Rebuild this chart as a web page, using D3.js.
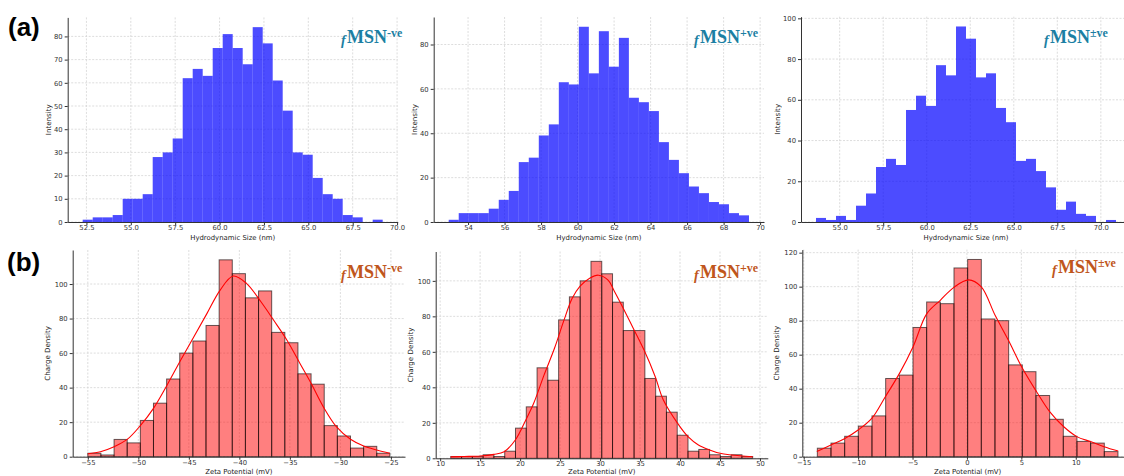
<!DOCTYPE html>
<html>
<head>
<meta charset="utf-8">
<script src="https://d3js.org/d3.v7.min.js"></script>
<style>
  body { margin: 0; background: #fff; }
  svg { display: block; font-family: "DejaVu Sans", sans-serif; }
</style>
</head>
<body>
<svg></svg>
<script>

// (a) hydrodynamic size histograms, 30 bins each
const hydroNegCounts = [1,2,2,3,10,10,12,28,30,36,62,66,63,75,81,75,68,84,77,61,48,30,29,19,12,10,3,2,0,1];
const hydroNegRange = [52.29, 69.19];
const hydroNegTicks = [52.5, 55, 57.5, 60, 62.5, 65, 67.5, 70];
const hydroNegYTicks = [0, 10, 20, 30, 40, 50, 60, 70, 80];

const hydroPosCounts = [1,4,4,4,6,10,14,27,29,39,44,63,62,88,67,86,70,83,56,54,50,36,28,22,16,13,9,8,4,3];
const hydroPosRange = [52.94, 69.39];
const hydroPosTicks = [54, 56, 58, 60, 62, 64, 66, 68, 70];
const hydroPosYTicks = [0, 20, 40, 60, 80];

const hydroMixCounts = [2,1,3,1,8,14,27,31,28,55,62,57,77,72,96,90,71,73,56,49,30,31,25,17,6,10,4,3,0,1];
const hydroMixRange = [53.64, 70.87];
const hydroMixTicks = [55, 57.5, 60, 62.5, 65, 67.5, 70];
const hydroMixYTicks = [0, 20, 40, 60, 80, 100];

// (b) zeta potential histograms + kde line
const zetaNegCounts = [2,1,10,8,21,31,45,60,67,76,114,106,92,96,72,66,48,42,18,12,5,6,2];
const zetaNegRange = [-55.0, -25.1];
const zetaNegTicks = [-55, -50, -45, -40, -35, -30, -25];
const zetaNegYTicks = [0, 20, 40, 60, 80, 100];
const zetaNegKdeX = [-55, -53.75, -52.4, -51.1, -49.8, -48.5, -47.2, -45.8, -44.5, -43.2, -41.9, -40.6, -39.3, -37.9, -36.6, -35.3, -34, -32.9, -31.7, -30.4, -29.0, -27.7, -26.4, -25.1];
const zetaNegKdeY = [1.7, 2.9, 5.8, 10, 18, 28, 41, 56, 69.5, 83, 96.5, 104.6, 100.4, 90, 79, 67.6, 54, 42.5, 29, 17.4, 10.1, 6.2, 3.9, 2.0];

const zetaPosCounts = [1,1,1,2,1,4,17,29,51,44,78,91,100,111,104,88,72,72,45,35,26,13,4,5,2,1,2,1];
const zetaPosRange = [11.33, 49.09];
const zetaPosTicks = [10, 15, 20, 25, 30, 35, 40, 45, 50];
const zetaPosYTicks = [0, 20, 40, 60, 80, 100];
const zetaPosKdeX = [11.3, 13, 15, 16.7, 18, 19.4, 20.7, 21.7, 23, 24.3, 25.5, 26.5, 27.5, 28.7, 29.8, 31, 31.8, 32.8, 34.1, 35.5, 36.9, 37.9, 39.7, 41, 42.3, 43.7, 45, 46.4, 49.1];
const zetaPosKdeY = [0.8, 1.0, 1.3, 2.2, 3.7, 10.3, 21.5, 31, 47, 62, 78, 90, 97, 101.5, 103.2, 100.4, 94, 85.4, 73.7, 61, 46, 33, 19.7, 12.2, 7.5, 4.7, 2.8, 1.9, 0.9];

const zetaMixCounts = [5,8,12,18,24,46,48,76,91,90,111,116,81,80,54,50,36,22,12,9,8,3];
const zetaMixRange = [-13.75, 13.88];
const zetaMixTicks = [-15, -10, -5, 0, 5, 10, 15];
const zetaMixYTicks = [0, 20, 40, 60, 80, 100, 120];
const zetaMixKdeX = [-13.8, -12.5, -11.3, -10.0, -8.75, -7.5, -6.2, -4.95, -3.7, -2.45, -1.2, 0.15, 1.3, 2.6, 3.8, 5.1, 6.4, 7.6, 8.9, 10.1, 11.4, 12.6, 13.9];
const zetaMixKdeY = [3.1, 6.9, 10.4, 15.7, 22.5, 35.3, 49, 64.7, 84, 92, 99.6, 104, 100, 83, 68.6, 52, 38.2, 26.5, 17.6, 11.8, 8.8, 5.9, 3.3];

const sampleTags = ["-ve", "+ve", "\u00b1ve"];

const W = 1124, H = 476;
const svg = d3.select("svg").attr("width", W).attr("height", H);

const panels = [
  {counts: hydroNegCounts, range: hydroNegRange, xTicks: hydroNegTicks, yTicks: hydroNegYTicks, fmt: ".1f", tag: sampleTags[0], row: 0,
   box: {left: 67.7, right: 397.7, top: 17.4, bottom: 222}, ylabOff: 17, labX: 347, labY: 42.5},
  {counts: hydroPosCounts, range: hydroPosRange, xTicks: hydroPosTicks, yTicks: hydroPosYTicks, fmt: "d", tag: sampleTags[1], row: 0,
   box: {left: 433.7, right: 764, top: 17, bottom: 222}, ylabOff: 16.5, labX: 700, labY: 42.5},
  {counts: hydroMixCounts, range: hydroMixRange, xTicks: hydroMixTicks, yTicks: hydroMixYTicks, fmt: ".1f", tag: sampleTags[2], row: 0,
   box: {left: 801, right: 1131, top: 16.7, bottom: 222}, ylabOff: 21.5, labX: 1050, labY: 42.5},
  {counts: zetaNegCounts, range: zetaNegRange, xTicks: zetaNegTicks, yTicks: zetaNegYTicks, fmt: "d", tag: sampleTags[0], row: 1,
   kx: zetaNegKdeX, ky: zetaNegKdeY,
   box: {left: 72.7, right: 405, top: 250, bottom: 456.7}, ylabOff: 22.5, labX: 347, labY: 278},
  {counts: zetaPosCounts, range: zetaPosRange, xTicks: zetaPosTicks, yTicks: zetaPosYTicks, fmt: "d", tag: sampleTags[1], row: 1,
   kx: zetaPosKdeX, ky: zetaPosKdeY,
   box: {left: 435.7, right: 767.8, top: 251.5, bottom: 458.3}, ylabOff: 22.5, labX: 700, labY: 278},
  {counts: zetaMixCounts, range: zetaMixRange, xTicks: zetaMixTicks, yTicks: zetaMixYTicks, fmt: "d", tag: sampleTags[2], row: 1,
   kx: zetaMixKdeX, ky: zetaMixKdeY,
   box: {left: 802.3, right: 1133, top: 249.6, bottom: 456.7}, ylabOff: 23.5, labX: 1058, labY: 273}
];

const rowStyle = [
  {fill: "blue", opacity: 0.7, stroke: "none", xlab: "Hydrodynamic Size (nm)", ylab: "Intensity", tagColor: "#1b7fa3", xlabY: 239.5},
  {fill: "red", opacity: 0.5, stroke: "#000", xlab: "Zeta Potential (mV)", ylab: "Charge Density", tagColor: "#c0561c", xlabY: 474.2}
];

panels.forEach(p => {
  const b = p.box, st = rowStyle[p.row];
  const g = svg.append("g");
  const [lo, hi] = p.range;
  const pad = (hi - lo) * 0.05;
  const x = d3.scaleLinear().domain([lo - pad, hi + pad]).range([b.left, b.right]);
  const y = d3.scaleLinear().domain([0, d3.max(p.counts) * 1.05]).range([b.bottom, b.top]);

  // grid
  g.append("g").selectAll("line").data(p.xTicks).join("line")
    .attr("x1", d => x(d)).attr("x2", d => x(d))
    .attr("y1", b.top).attr("y2", b.bottom)
    .attr("stroke", "#d4d4d4").attr("stroke-width", 0.8).attr("stroke-dasharray", "2,1.5");
  g.append("g").selectAll("line").data(p.yTicks).join("line")
    .attr("x1", b.left).attr("x2", b.right)
    .attr("y1", d => y(d)).attr("y2", d => y(d))
    .attr("stroke", "#d4d4d4").attr("stroke-width", 0.8).attr("stroke-dasharray", "2,1.5");

  // bars
  const bw = (hi - lo) / p.counts.length;
  g.append("g").selectAll("rect").data(p.counts).join("rect")
    .attr("x", (d, i) => x(lo + i * bw))
    .attr("width", x(lo + bw) - x(lo))
    .attr("y", d => y(d))
    .attr("height", d => y(0) - y(d))
    .attr("fill", st.fill).attr("fill-opacity", st.opacity)
    .attr("stroke", st.stroke).attr("stroke-opacity", 0.6).attr("stroke-width", 1);

  // kde
  if (p.kx) {
    const pts = p.kx.map((v, i) => [v, p.ky[i]]);
    g.append("path").datum(pts)
      .attr("fill", "none").attr("stroke", "red").attr("stroke-width", 1.1)
      .attr("d", d3.line().x(d => x(d[0])).y(d => y(d[1])).curve(d3.curveCatmullRom));
  }

  // axes
  const ax = g.append("g").attr("transform", `translate(0,${b.bottom})`)
    .call(d3.axisBottom(x).tickValues(p.xTicks).tickFormat(d3.format(p.fmt))
      .tickSizeInner(3).tickSizeOuter(0).tickPadding(0));
  const ay = g.append("g").attr("transform", `translate(${b.left},0)`)
    .call(d3.axisLeft(y).tickValues(p.yTicks).tickFormat(d3.format("d"))
      .tickSizeInner(3).tickSizeOuter(0).tickPadding(2));
  [ax, ay].forEach(a => {
    a.selectAll("text").attr("font-size", 6.8).attr("font-family", "DejaVu Sans").attr("fill", "#333");
    a.selectAll("line").attr("stroke", "#333");
    a.select(".domain").attr("stroke", "#333");
  });

  // axis labels
  g.append("text")
    .attr("x", (b.left + b.right) / 2).attr("y", st.xlabY)
    .attr("text-anchor", "middle").attr("font-size", 6.9).attr("fill", "#222")
    .text(st.xlab);
  g.append("text")
    .attr("transform", `translate(${b.left - p.ylabOff},${(b.top + b.bottom) / 2}) rotate(-90)`)
    .attr("text-anchor", "middle").attr("font-size", 7.1).attr("fill", "#222")
    .text(st.ylab);

  // sample tag  fMSN^x
  const t = g.append("text")
    .attr("x", p.labX).attr("y", p.labY)
    .attr("font-family", "Liberation Serif").attr("font-weight", "bold")
    .attr("fill", st.tagColor).attr("font-size", 18);
  t.append("tspan").attr("x", p.labX - 6).attr("dy", 2)
    .attr("font-style", "italic").attr("font-size", 14).text("f");
  t.append("tspan").attr("x", p.labX).attr("dy", -2).text("MSN");
  t.append("tspan").attr("dy", -6).attr("font-size", 12).text(p.tag);
});

// panel letters
svg.append("text").attr("x", 8).attr("y", 36)
  .attr("font-family", "Liberation Sans").attr("font-weight", "bold").attr("font-size", 26)
  .text("(a)");
svg.append("text").attr("x", 7).attr("y", 271)
  .attr("font-family", "Liberation Sans").attr("font-weight", "bold").attr("font-size", 26)
  .text("(b)");

</script>
</body>
</html>
